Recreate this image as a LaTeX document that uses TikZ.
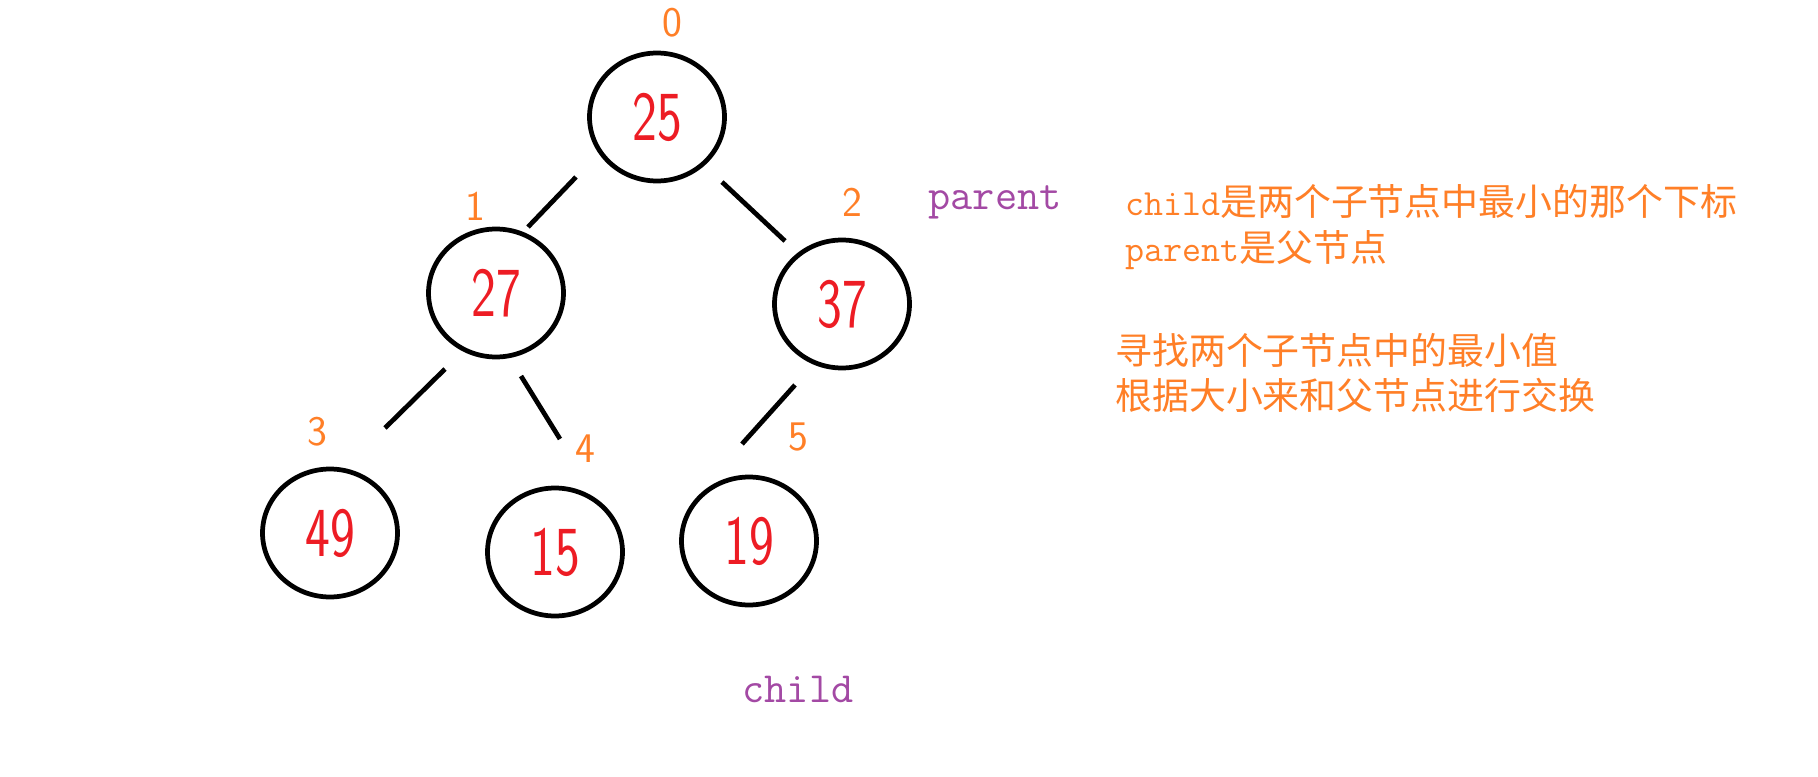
\documentclass[tikz,border=0pt]{standalone}
\usepackage{fontspec}
\usetikzlibrary{shapes.geometric}
\newfontfamily\cjkfont{Noto Sans CJK SC}
\definecolor{paintred}{RGB}{237,28,36}
\definecolor{paintorange}{RGB}{255,127,39}
\definecolor{paintpurple}{RGB}{163,73,164}
\newcommand{\heapval}[1]{\scalebox{0.75}[1]{#1}}

\begin{document}
\begin{tikzpicture}[
    x=0.02cm, y=-0.02cm,
    heapnode/.style={draw, ellipse, line width=2.7pt, inner sep=0pt,
                     minimum width=2.7cm, minimum height=2.56cm,
                     text=paintred, font=\sffamily\fontsize{40}{40}\selectfont},
    idx/.style={text=paintorange, font=\sffamily\fontsize{24}{24}\selectfont},
    edge/.style={line width=2.7pt},
    ptr/.style={text=paintpurple, font=\ttfamily\fontsize{24.5}{24.5}\selectfont},
    note/.style={anchor=west, inner sep=0pt, align=left, text=paintorange,
                 font=\cjkfont\fontsize{21}{26}\selectfont}
  ]
  \useasboundingbox[fill=white] (0,0) rectangle (1818,777);

  % the heap
  \node[heapnode] (root) at (657,117) {\heapval{25}};
  \node[heapnode] (n1)   at (496,293) {\heapval{27}};
  \node[heapnode] (n2)   at (842,304) {\heapval{37}};
  \node[heapnode] (n3)   at (330,533) {\heapval{49}};
  \node[heapnode] (n4)   at (555,552) {\heapval{15}};
  \node[heapnode] (n5)   at (749,541) {\heapval{19}};

  % array indices
  \node[idx] (i0) at (672,23)  {0};
  \node[idx] (i1) at (475,206) {1};
  \node[idx] (i2) at (852,202) {2};
  \node[idx] (i3) at (317,432) {3};
  \node[idx] (i4) at (585,449) {4};
  \node[idx] (i5) at (798,437) {5};

  \draw[edge] ([shift={(-81,60)}]root.center) -- ([shift={(32,-66)}]n1.center);
  \draw[edge] ([shift={(65,65)}]root.center)  -- ([shift={(-57,-63)}]n2.center);
  \draw[edge] ([shift={(-51,76)}]n1.center)   -- ([shift={(55,-105)}]n3.center);
  \draw[edge] ([shift={(25,83)}]n1.center)    -- ([shift={(5,-113)}]n4.center);
  \draw[edge] ([shift={(-47,81)}]n2.center)   -- ([shift={(-7,-97)}]n5.center);

  \node[ptr] (parent) at (995,202) {parent};
  \node[ptr] (child)  at (798,689) {child};

  \node[note] (rule)  at (1125,227)
    {\texttt{child}是两个子节点中最小的那个下标\\ \texttt{parent}是父节点};
  \node[note] (steps) at (1115,373)
    {寻找两个子节点中的最小值\\ 根据大小来和父节点进行交换};
\end{tikzpicture}
\end{document}
